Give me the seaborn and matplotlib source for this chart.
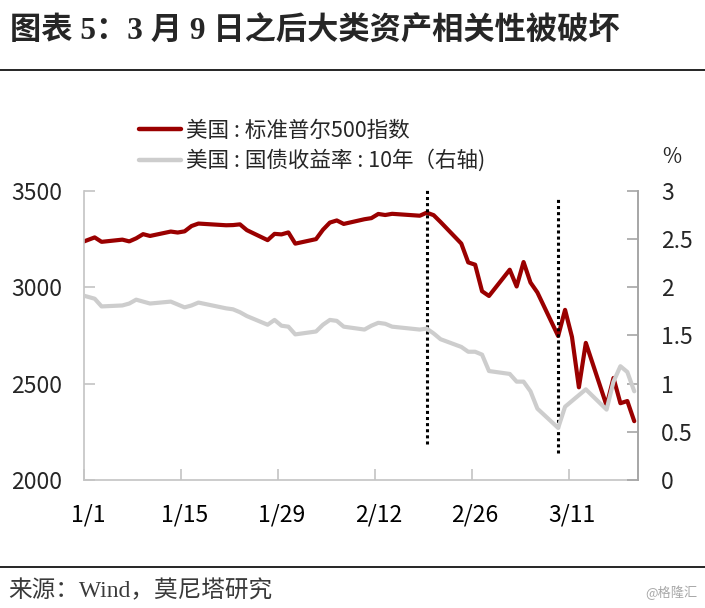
import matplotlib
matplotlib.use("Agg")
import matplotlib.pyplot as plt
from matplotlib.lines import Line2D
from matplotlib.ticker import FixedLocator, NullFormatter
import pandas as pd
import seaborn as sns

# ---------------- data ----------------
dates = ["2019-12-31",
         "2020-01-02", "2020-01-03", "2020-01-06", "2020-01-07", "2020-01-08", "2020-01-09",
         "2020-01-10", "2020-01-13", "2020-01-14", "2020-01-15", "2020-01-16", "2020-01-17",
         "2020-01-21", "2020-01-22", "2020-01-23", "2020-01-24", "2020-01-27", "2020-01-28",
         "2020-01-29", "2020-01-30", "2020-01-31", "2020-02-03", "2020-02-04", "2020-02-05",
         "2020-02-06", "2020-02-07", "2020-02-10", "2020-02-11", "2020-02-12", "2020-02-13",
         "2020-02-14", "2020-02-18", "2020-02-19", "2020-02-20", "2020-02-21", "2020-02-24",
         "2020-02-25", "2020-02-26", "2020-02-27", "2020-02-28", "2020-03-02", "2020-03-03",
         "2020-03-04", "2020-03-05", "2020-03-06", "2020-03-09", "2020-03-10", "2020-03-11",
         "2020-03-12", "2020-03-13", "2020-03-16", "2020-03-17", "2020-03-18", "2020-03-19",
         "2020-03-20"]
spx = [3230.78,
       3257.85, 3234.85, 3246.28, 3237.18, 3253.05, 3274.70,
       3265.35, 3288.13, 3283.15, 3289.29, 3316.81, 3329.62,
       3320.79, 3321.75, 3325.54, 3295.47, 3243.63, 3276.24,
       3273.40, 3283.66, 3225.52, 3248.92, 3297.59, 3334.69,
       3345.78, 3327.71, 3352.09, 3357.75, 3379.45, 3373.94,
       3380.16, 3370.29, 3386.15, 3373.23, 3337.75, 3225.89,
       3128.21, 3116.39, 2978.76, 2954.22, 3090.23, 3003.37,
       3130.12, 3023.94, 2972.37, 2746.56, 2882.23, 2741.38,
       2480.64, 2711.02, 2386.13, 2529.19, 2398.10, 2409.39,
       2304.92]
ust10 = [1.92,
         1.88, 1.80, 1.81, 1.83, 1.87, 1.85,
         1.83, 1.85, 1.82, 1.79, 1.81, 1.84,
         1.78, 1.77, 1.74, 1.70, 1.61, 1.66,
         1.60, 1.59, 1.51, 1.54, 1.61, 1.66,
         1.65, 1.59, 1.56, 1.60, 1.63, 1.62,
         1.59, 1.56, 1.57, 1.52, 1.46, 1.38,
         1.33, 1.33, 1.30, 1.13, 1.10, 1.02,
         1.02, 0.92, 0.74, 0.54, 0.76, 0.82,
         0.88, 0.94, 0.73, 1.02, 1.18, 1.12,
         0.92]
tick_dates = ["2020-01-01", "2020-01-15", "2020-01-29", "2020-02-12", "2020-02-26", "2020-03-11"]
tick_labels = ["1/1", "1/15", "1/29", "2/12", "2/26", "3/11"]
event_dates = ["2020-02-19", "2020-03-09"]
event_low = [2187, 2140]
event_high = [3516, 3464]
left_ticks = [2000, 2500, 3000, 3500]
right_ticks = [0, 0.5, 1, 1.5, 2, 2.5, 3]
right_labels = ["0", "0.5", "1", "1.5", "2", "2.5", "3"]
name_spx = "美国 : 标准普尔500指数"
name_ust = "美国 : 国债收益率 : 10年（右轴)"
title = "图表 5：3 月 9 日之后大类资产相关性被破坏"
source = "来源：Wind，莫尼塔研究"

# ---------------- setup ----------------
sns.set_style("white")
plt.rcParams["font.family"] = ["Noto Sans CJK SC", "DejaVu Sans"]

origin = pd.Timestamp("2020-01-01")
end = pd.Timestamp("2020-03-21")
def to_x(ds):
    return [(pd.Timestamp(d) - origin).days + 0.5 for d in ds]

df = pd.DataFrame({"x": to_x(dates), "spx": spx, "ust": ust10})

RED = "#9a0000"
GRAY = "#cdcdcd"
SPINE = "#c4c4c4"
SPINE_R = "#a6a6a6"

fig = plt.figure(figsize=(7.05, 6.08), dpi=100)
W, H = 705, 608
ax = fig.add_axes([84.3 / W, 1 - 480 / H, (637.7 - 84.3) / W, (480 - 190.7) / H])
ax2 = ax.twinx()

sns.lineplot(data=df, x="x", y="spx", ax=ax, color=RED, linewidth=3.0,
             label=name_spx, legend=False, solid_capstyle="round")
sns.lineplot(data=df, x="x", y="ust", ax=ax2, color=GRAY, linewidth=3.0,
             label=name_ust, legend=False, solid_capstyle="round")

ax.set_xlim(0, (end - origin).days)
ax.set_ylim(2000, 3500)
ax2.set_ylim(0, 3)

# event lines
ax.vlines(to_x(event_dates), event_low, event_high, colors="black",
          linestyles=(0, (1, 1)), linewidth=2.2, clip_on=False, zorder=5)

# x ticks: marks at dates, labels centred on day slot
xt = [(pd.Timestamp(d) - origin).days for d in tick_dates]
ax.xaxis.set_major_locator(FixedLocator(xt))
ax.xaxis.set_major_formatter(NullFormatter())
ax.xaxis.set_minor_locator(FixedLocator(to_x(tick_dates)))
ax.set_xticklabels(tick_labels, minor=True)
ax.tick_params(axis="x", which="major", direction="in", length=8, width=1.2,
               color=SPINE, bottom=True)
ax.tick_params(axis="x", which="minor", length=0, pad=17, labelsize=16.5,
               labelcolor="black", bottom=True)

ax.set_yticks(left_ticks)
ax.set_yticklabels([str(v) for v in left_ticks])
ax.tick_params(axis="y", direction="in", length=8, width=1.2, color=SPINE,
               pad=16, labelsize=16.5, left=True)
ax2.set_yticks(right_ticks)
ax2.set_yticklabels(right_labels)
ax2.tick_params(axis="y", direction="in", length=8, width=1.2, color=SPINE_R,
                pad=17, labelsize=16.5, right=True)

ax.set_xlabel("")
ax.set_ylabel("")
ax2.set_ylabel("")
for a in (ax, ax2):
    a.spines["top"].set_visible(False)
    a.grid(False)
ax.spines["left"].set_color(SPINE)
ax.spines["bottom"].set_color(SPINE)
ax.spines["right"].set_visible(False)
ax2.spines["left"].set_visible(False)
ax2.spines["bottom"].set_visible(False)
ax2.spines["right"].set_color(SPINE_R)
for s in ("left", "bottom"):
    ax.spines[s].set_linewidth(1.2)
ax2.spines["right"].set_linewidth(1.4)

# legend
handles = [Line2D([], [], color=RED, lw=3.2), Line2D([], [], color=GRAY, lw=3.2)]
fig.legend(handles, [name_spx, name_ust], loc="upper left",
           bbox_to_anchor=(139 / W, 1 - 120 / H), frameon=False, fontsize=15.5,
           handlelength=1.95, handletextpad=0.25, labelspacing=0.35, borderpad=0,
           borderaxespad=0)

fig.text(662 / W, 1 - 157 / H, "%", fontsize=15, va="center", ha="left")

# title, rules, footer
fig.text(10 / W, 1 - 32 / H, title, fontsize=22.5, fontweight="bold", va="center",
         ha="left", family=["Liberation Serif", "Noto Sans CJK SC"])
fig.add_artist(Line2D([0, 1], [1 - 70 / H] * 2, color="black", lw=1.2))
fig.add_artist(Line2D([0, 1], [1 - 566.7 / H] * 2, color="black", lw=1.2))
fig.text(8 / W, 1 - 590.7 / H, source, fontsize=17, color="#3a3a3a", va="center",
         ha="left", family=["Liberation Serif", "Noto Sans CJK SC"])
fig.text(698 / W, 1 - 593 / H, "@格隆汇", fontsize=9.5, color="#a8a8a8",
         va="center", ha="right")

fig.savefig("out.png", dpi=100)
